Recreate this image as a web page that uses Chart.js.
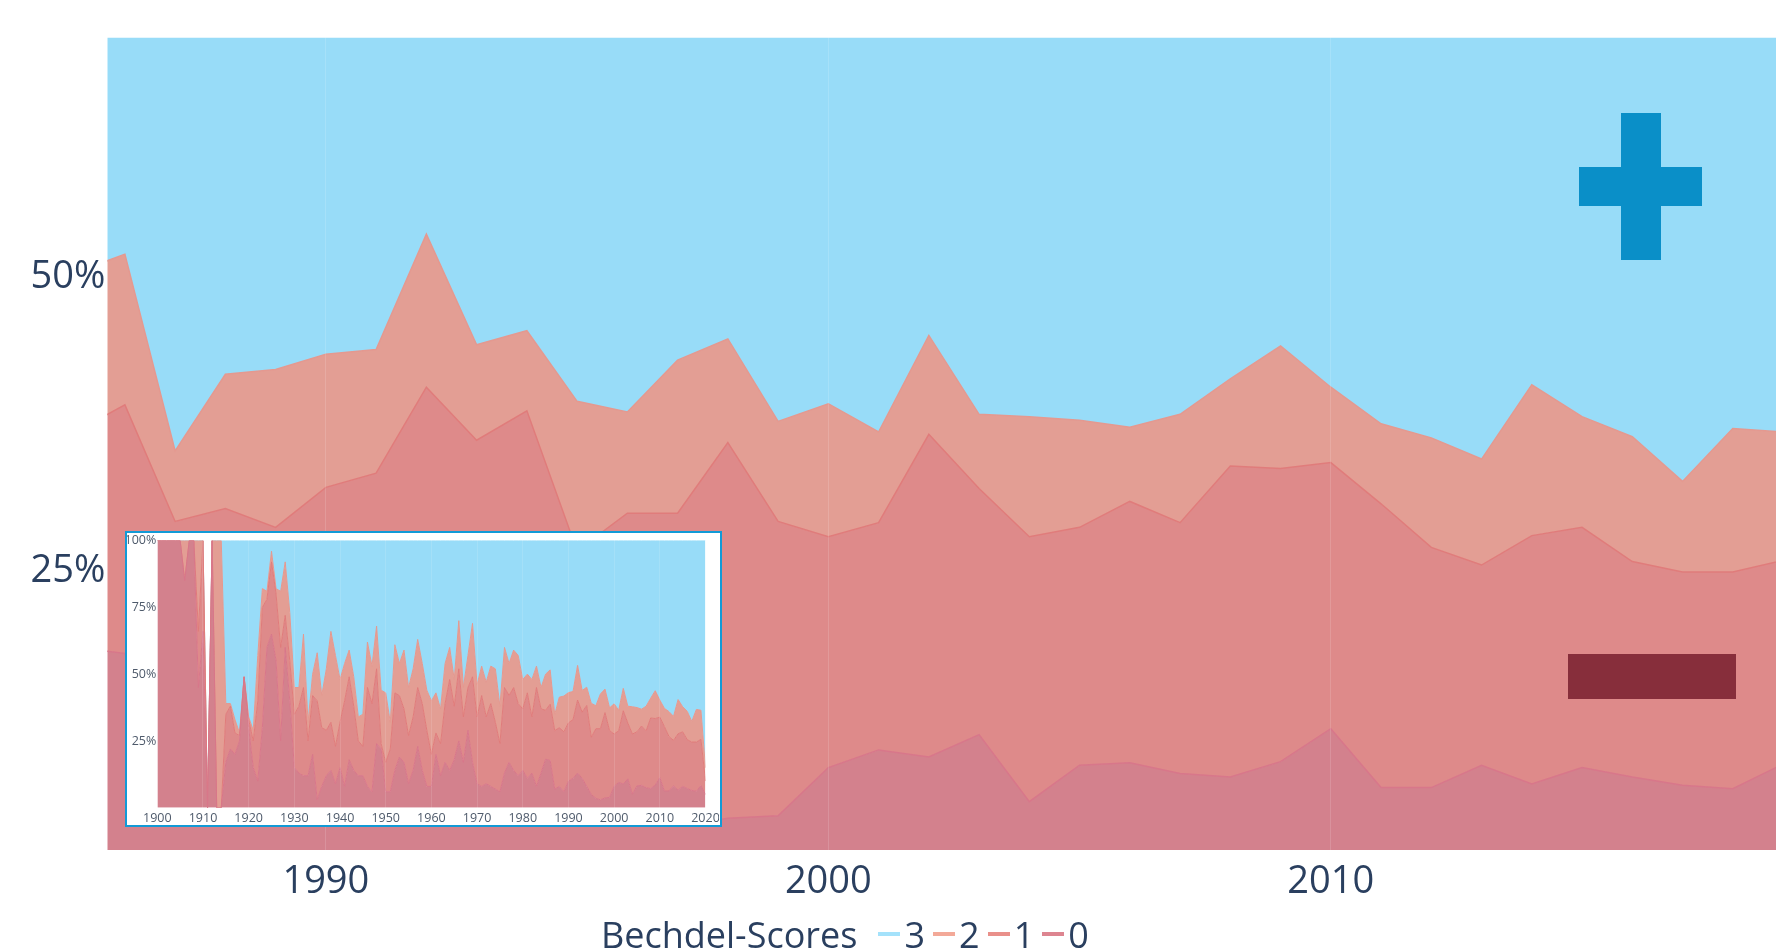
<!DOCTYPE html>
<html>
<head>
<meta charset="utf-8">
<script src="https://cdn.jsdelivr.net/npm/chart.js@4.4.1/dist/chart.umd.min.js"></script>
<style>
  html, body { margin: 0; padding: 0; background: #fff; }
  body { width: 1776px; height: 952px; position: relative; overflow: hidden; font-family: 'Open Sans', sans-serif; }
  #mainChart { position: absolute; left: 0; top: 0; }
  #insetBox {
    position: absolute; left: 125px; top: 531px; width: 597px; height: 296px;
    box-sizing: border-box; border: 2.5px solid #129ad6; background: #fff;
  }
  #insetChart { position: absolute; left: 0; top: 0; }
  .bar { position: absolute; }
  #legend {
    position: absolute; left: 601px; top: 907px; height: 54px;
    display: flex; align-items: center; white-space: nowrap;
    font-size: 36px; color: #2a3f5f;
  }
  #legend .ltitle { margin-right: 21px; }
  #legend .item { display: flex; align-items: center; margin-right: 8px; }
  #legend .item i { display: inline-block; width: 22px; height: 4px; margin-right: 4px; }
</style>
</head>
<body>
<canvas id="mainChart" width="1776" height="952"></canvas>

<!-- zoom buttons -->
<div class="bar" style="left:1621px; top:113px; width:40px; height:147px; background:#0a8fc8;"></div>
<div class="bar" style="left:1579px; top:167px; width:123px; height:39px; background:#0a8fc8;"></div>
<div class="bar" style="left:1568px; top:654px; width:168px; height:45px; background:#872e3b;"></div>

<div id="insetBox"><canvas id="insetChart" width="592" height="291"></canvas></div>

<div id="legend"><span class="ltitle">Bechdel-Scores</span></div>

<script>
const years = [
  1900, 1901, 1902, 1903, 1904, 1905, 1906, 1907, 1908, 1909,
  1910, 1911, 1912, 1913, 1914, 1915, 1916, 1917, 1918, 1919,
  1920, 1921, 1922, 1923, 1924, 1925, 1926, 1927, 1928, 1929,
  1930, 1931, 1932, 1933, 1934, 1935, 1936, 1937, 1938, 1939,
  1940, 1941, 1942, 1943, 1944, 1945, 1946, 1947, 1948, 1949,
  1950, 1951, 1952, 1953, 1954, 1955, 1956, 1957, 1958, 1959,
  1960, 1961, 1962, 1963, 1964, 1965, 1966, 1967, 1968, 1969,
  1970, 1971, 1972, 1973, 1974, 1975, 1976, 1977, 1978, 1979,
  1980, 1981, 1982, 1983, 1984, 1985, 1986, 1987, 1988, 1989,
  1990, 1991, 1992, 1993, 1994, 1995, 1996, 1997, 1998, 1999,
  2000, 2001, 2002, 2003, 2004, 2005, 2006, 2007, 2008, 2009,
  2010, 2011, 2012, 2013, 2014, 2015, 2016, 2017, 2018, 2019,
  2020
];

// share of films (%) per Bechdel score, per year
const score0 = [
  100, 100, 100, 100, 100, 100, 85, 100, 100, 45,
  66, 0, 100, 0, 0, 17, 22, 20, 25, 49,
  30, 15, 10, 30, 60, 65, 55, 25, 60, 40,
  15, 13, 12, 12, 20, 3, 8, 12, 14, 9,
  15, 8, 18, 14, 12, 12, 8, 6, 24, 22,
  6, 6, 14, 19, 17, 9, 14, 23, 14, 8,
  8, 20, 12, 17, 14, 18, 25, 17, 29, 17,
  9, 8, 9, 8, 7, 6, 13, 17, 14, 12,
  14, 11, 13, 8, 13, 18.2, 17.7, 7, 8, 6,
  10, 11, 13, 11, 8, 5, 3.5, 3, 3.7, 3.9,
  8, 9.5, 8.9, 10.8, 5.1, 8.2, 8.4, 7.5, 7.2, 8.5,
  11.3, 6.3, 6.3, 8.2, 6.6, 8, 7.2, 6.5, 6.2, 8.3,
  5
];
const score1 = [
  0, 0, 0, 0, 0, 0, 0, 0, 0, 21,
  34, 0, 0, 0, 0, 18, 16, 8, 2, 0,
  3, 10, 30, 45, 18, 27, 25, 35, 12, 15,
  20, 25, 33, 13, 22, 37, 22, 17, 18, 14,
  17, 32, 31, 24, 13, 11, 37, 33, 28, 2,
  11, 16, 29, 23, 20, 18, 20, 22, 25, 21,
  12, 8, 12, 22, 34, 20, 27, 17, 16, 32,
  25, 34, 25, 31, 25, 18, 32, 25, 31, 27,
  23, 32, 21, 37, 24, 18.3, 21.1, 21.9, 22, 22.4,
  21.8, 22, 27.3, 24.8, 30.3, 21.4, 26.1, 26.6, 31.9, 25,
  19.6, 19.3, 27.4, 20.9, 22.5, 20.2, 22.2, 21.3, 26.4, 24.9,
  22.6, 24.1, 20.4, 17, 21.1, 20.4, 18.3, 18.1, 18.4, 17.3,
  5
];
const score2 = [
  0, 0, 0, 0, 0, 0, 15, 0, 0, 34,
  0, 0, 0, 100, 100, 4, 1, 5, 1, 0,
  1, 4, 17, 7, 3, 4, 2, 21, 20, 18,
  10, 7, 20, 7, 8, 18, 12, 23, 34, 34,
  16, 14, 10, 11, 9, 12, 17, 14, 16, 20,
  26, 10, 18, 12, 22, 18, 18, 18, 15, 15,
  20, 15, 13, 15, 12, 10, 18, 11, 12, 20,
  12, 11, 13, 14, 20, 14, 15, 12, 14, 18,
  11, 7, 14, 8, 8, 13.5, 12.8, 6, 11.4, 13.4,
  11.3, 10.5, 13, 8.1, 6.8, 12.7, 8.6, 13, 8.8, 8.5,
  11.3, 7.7, 8.4, 6.3, 10.2, 9.1, 6.3, 9.2, 7.4, 10.4,
  6.4, 6.8, 9.3, 9, 12.8, 9.4, 10.6, 7.7, 12.2, 10.9,
  5
];
const score3 = [
  0, 0, 0, 0, 0, 0, 0, 0, 0, 0,
  0, 0, 0, 0, 0, 61, 61, 67, 72, 51,
  66, 71, 43, 18, 19, 4, 18, 19, 8, 27,
  55, 55, 35, 68, 50, 42, 58, 48, 34, 43,
  52, 46, 41, 51, 66, 65, 38, 47, 32, 56,
  57, 68, 39, 46, 41, 55, 48, 37, 46, 56,
  60, 57, 63, 46, 40, 52, 30, 55, 43, 31,
  54, 47, 53, 47, 48, 62, 40, 46, 41, 43,
  52, 50, 52, 47, 55, 50, 48.4, 65.1, 58.6, 58.2,
  56.9, 56.5, 46.7, 56.1, 54.9, 60.9, 61.8, 57.4, 55.6, 62.6,
  61.1, 63.5, 55.3, 62, 62.2, 62.5, 63.1, 62, 59, 56.2,
  59.7, 62.8, 64, 65.8, 59.5, 62.2, 63.9, 67.7, 63.2, 63.5,
  85
];

const seriesNames = ['0', '1', '2', '3'];
const fillColors = ['#d3818d', '#de8a8a', '#e39e94', '#98dcf8'];
const lineColors = ['#d8778a', '#e07c7b', '#e49990', '#98dcf8'];
const legendColors = ['#a4e2fb', '#f3a998', '#e9908a', '#dd8590'];  // 3, 2, 1, 0
const legendLabels = ['3', '2', '1', '0'];

function makeDatasets(lineWidth) {
    const values = [score0, score1, score2, score3];
    return values.map((vals, i) => ({
        label: seriesNames[i],
        data: vals,
        backgroundColor: fillColors[i],
        borderColor: lineColors[i],
        borderWidth: lineWidth,
        fill: i === 0 ? 'origin' : '-1',
        pointRadius: 0,
        tension: 0
    }));
}

function initMainChart() {
    new Chart(document.getElementById('mainChart'), {
        type: 'line',
        data: { labels: years, datasets: makeDatasets(1.5) },
        options: {
            responsive: false,
            animation: false,
            devicePixelRatio: 1,
            layout: { padding: { top: 37.5, left: 0, right: 0, bottom: 0 } },
            plugins: {
                legend: { display: false },
                tooltip: { enabled: false }
            },
            scales: {
                x: {
                    type: 'linear',
                    min: 1985.65,
                    max: 2018.86,
                    border: { display: false },
                    grid: { color: 'rgba(255,255,255,0.14)', drawTicks: false, z: 1 },
                    ticks: {
                        stepSize: 10,
                        includeBounds: false,
                        maxRotation: 0,
                        padding: 9,
                        color: '#2a3f5f',
                        font: { family: 'Open Sans', size: 38 },
                        callback: v => String(v)
                    },
                    afterFit: s => { s.height = 102; }
                },
                y: {
                    stacked: true,
                    min: 1,
                    max: 70,
                    border: { display: false },
                    grid: { display: false, drawTicks: false },
                    ticks: {
                        stepSize: 25,
                        includeBounds: false,
                        padding: 2,
                        labelOffset: 4,
                        color: '#2a3f5f',
                        font: { family: 'Open Sans', size: 38 },
                        callback: v => v + '%'
                    },
                    afterFit: s => { s.width = 107.3; }
                }
            }
        }
    });
}

function initInsetChart() {
    new Chart(document.getElementById('insetChart'), {
        type: 'line',
        data: { labels: years, datasets: makeDatasets(1) },
        options: {
            responsive: false,
            animation: false,
            devicePixelRatio: 1,
            layout: { padding: { top: 7.5, left: 0, right: 13.5, bottom: 0 } },
            plugins: {
                legend: { display: false },
                tooltip: { enabled: false }
            },
            scales: {
                x: {
                    type: 'linear',
                    min: 1900,
                    max: 2020,
                    border: { display: false },
                    grid: { color: 'rgba(255,255,255,0.12)', drawTicks: false, z: 1 },
                    ticks: {
                        stepSize: 10,
                        autoSkip: false,
                        maxRotation: 0,
                        padding: 3,
                        color: '#4e5a6b',
                        font: { family: 'Open Sans', size: 12.5 },
                        callback: v => String(v)
                    },
                    afterFit: s => {
                        s.height = 16.2;
                        s.paddingLeft = 0;
                        s.paddingRight = 0;
                    }
                },
                y: {
                    stacked: true,
                    min: 0,
                    max: 100,
                    border: { display: false },
                    grid: { display: false, drawTicks: false },
                    ticks: {
                        stepSize: 25,
                        padding: 1,
                        color: '#4e5a6b',
                        font: { family: 'Open Sans', size: 12.5 },
                        callback: v => (v === 0 ? '' : v + '%')
                    },
                    afterFit: s => {
                        s.width = 30.3;
                        s.paddingTop = 0;
                        s.paddingBottom = 0;
                    }
                }
            }
        }
    });
}

function initLegend() {
    const legend = document.getElementById('legend');
    legendLabels.forEach((lab, i) => {
        const item = document.createElement('span');
        item.className = 'item';
        item.innerHTML = '<i style="background:' + legendColors[i] + '"></i>' + lab;
        legend.appendChild(item);
    });
}

initMainChart();
initInsetChart();
initLegend();
</script>
</body>
</html>
